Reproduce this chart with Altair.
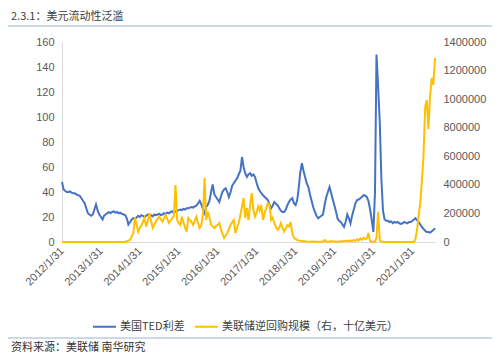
import altair as alt
import pandas as pd

title_text = "2.3.1：美元流动性泛滥"
source_text = "资料来源：美联储 南华研究"
series_names = ["美国TED利差", "美联储逆回购规模（右，十亿美元）"]
series_colors = ["#4472C4", "#FFC000"]
tick_years = list(range(2012, 2022))
left_ticks = [0, 20, 40, 60, 80, 100, 120, 140, 160]
right_ticks = [0, 200000, 400000, 600000, 800000, 1000000, 1200000, 1400000]

# TED spread (bp), semi-monthly points (15th and month end), 2012-01-31 .. 2021-08-31
ted_2012 = [48, 42, 41, 40, 40, 40.5, 39.5, 39, 39, 38, 37.5, 37, 35, 33, 31, 27, 23, 22, 21, 22, 26, 30, 25]
ted_2013 = [22, 20, 18, 21, 22, 23, 24, 23, 24, 24.5, 23.5, 24, 23, 23.5, 22.5, 22, 21.5, 19, 14, 16, 18, 19, 18.5, 19.5]
ted_2014 = [21, 20, 21.5, 21, 20, 21, 22, 21, 21.5, 20.5, 22, 21.5, 22, 22.5, 21.5, 22, 23, 22.5, 23.5, 23, 24, 24.5, 23.5, 24.5]
ted_2015 = [25, 25.5, 26, 25.5, 26.5, 26, 27, 27, 27.5, 28, 27.5, 28.5, 29, 31, 33, 30, 26, 23, 28, 30, 33, 40, 46, 38]
ted_2016 = [36, 34, 32, 36, 40, 42, 43, 40, 36, 40, 45, 47, 49, 51, 54, 57, 68, 60, 55, 52, 54, 55, 53, 54]
ted_2017 = [52, 47, 43, 41, 39, 37.5, 36, 35, 33.5, 30, 27, 29, 32, 30.5, 29.5, 27, 25, 24, 24, 26, 29.5, 32, 34, 35]
ted_2018 = [31, 29.5, 33.5, 42, 55, 63, 57, 52, 47, 44, 38, 33, 28, 24, 21, 19, 20, 21, 22, 30, 36, 40, 44, 39]
ted_2019 = [34, 29, 24, 19, 17, 16, 14, 12, 16, 22, 19, 15, 21, 26, 31, 33.5, 34, 35, 36, 37.5, 37, 36, 33, 26]
ted_2020 = [18, 8, 40, 150, 125, 95, 50, 25, 18, 17, 17, 16, 16.5, 15, 16, 15.5, 16, 15, 14.5, 15, 16, 15.5, 15, 16]
ted_2021 = [16, 17, 18, 19, 17.5, 16, 14, 12, 10.5, 9, 8, 8, 7.5, 8.5, 9.5, 11]

# Fed reverse repo (right axis), same dates
rrp_2012 = [0] * 23
rrp_2013 = [0, 0, 0, 0, 0, 0, 0, 0, 0, 0, 0, 0, 0, 0, 0, 0, 0,
            5000, 10000, 15000, 40000, 60000, 170000, 120000]
rrp_2014 = [72000, 100000, 119000, 140000, 168000, 107000, 150000, 203000, 150000, 98000, 120000, 142000,
            160000, 177000, 160000, 142000, 165000, 189000, 160000, 133000, 150000, 168000, 180000, 399000]
rrp_2015 = [154000, 130000, 119000, 177000, 140000, 100000, 72000, 168000, 154000, 140000, 119000, 150000,
            177000, 130000, 98000, 120000, 200000, 450000, 154000, 212000, 170000, 119000, 110000, 98000]
rrp_2016 = [110000, 120000, 133000, 90000, 60000, 28000, 45000, 63000, 90000, 119000, 140000, 154000,
            63000, 100000, 133000, 189000, 247000, 308000, 168000, 238000, 154000, 259000, 343000, 224000]
rrp_2017 = [177000, 210000, 247000, 220000, 259000, 154000, 200000, 238000, 273000, 259000, 154000, 170000,
            133000, 105000, 84000, 100000, 133000, 100000, 72000, 95000, 119000, 110000, 140000, 60000]
rrp_2018 = [30000, 20000, 14000, 10000, 8000, 7000, 4000, 5000, 3000, 2000, 1000, 4000,
            2000, 3000, 1000, 2000, 0, 4000, 1000, 14000, 2000, 3000, 1000, 8000]
rrp_2019 = [2000, 5000, 1000, 3000, 2000, 6000, 3000, 8000, 4000, 10000, 5000, 12000,
            6000, 15000, 8000, 20000, 10000, 25000, 15000, 30000, 20000, 25000, 63000, 5000]
rrp_2020 = [2000, 1000, 2000, 30000, 212000, 10000, 2000, 1000,
            0, 0, 0, 0, 0, 0, 0, 0, 0, 0, 0, 0, 0, 0, 0, 0]
rrp_2021 = [0, 0, 0, 20000, 84000, 190000, 273000, 434000, 600000, 945000, 994000, 790000,
            1015000, 1148000, 1099000, 1288000]

ted = ted_2012 + ted_2013 + ted_2014 + ted_2015 + ted_2016 + ted_2017 + ted_2018 + ted_2019 + ted_2020 + ted_2021
rrp = rrp_2012 + rrp_2013 + rrp_2014 + rrp_2015 + rrp_2016 + rrp_2017 + rrp_2018 + rrp_2019 + rrp_2020 + rrp_2021

dates = [pd.Timestamp("2012-01-31")]
for m in pd.date_range("2012-02-01", "2021-08-01", freq="MS"):
    dates.append(m + pd.Timedelta(days=14))
    dates.append(m + pd.offsets.MonthEnd(0))

df = pd.DataFrame({"date": [d.strftime("%Y-%m-%d") for d in dates], "ted": ted, "rrp": rrp})

CJK = "Noto Sans CJK SC"
LAT = "Liberation Sans"

x_enc = alt.X(
    "date:T",
    title=None,
    scale=alt.Scale(
        type="utc",
        nice=False,
        domain=[alt.DateTime(year=2012, month=1, date=31, utc=True),
                alt.DateTime(year=2021, month=8, date=31, utc=True)],
    ),
    axis=alt.Axis(
        values=[alt.DateTime(year=y, month=1, date=31, utc=True) for y in tick_years],
        labelExpr="utcFormat(datum.value, '%Y/%-m/%-d')",
        labelAngle=-45,
        labelAlign="right",
        labelBaseline="middle",
        labelPadding=7,
        labelOverlap=False,
        ticks=False,
        grid=False,
        domainColor="#D9D9D9",
    ),
)

legend = alt.Legend(
    orient="none", legendX=30, legendY=272, direction="horizontal", title=None,
    symbolType="stroke", symbolStrokeWidth=2, symbolSize=529,
    labelFont=CJK, labelFontSize=11, labelColor="#404040", labelLimit=400,
    labelOffset=3, columnPadding=6, padding=0,
)
color_scale = alt.Scale(domain=series_names, range=series_colors)

base = alt.Chart(df)

ted_line = base.transform_calculate(series="'" + series_names[0] + "'").mark_line(strokeWidth=2).encode(
    y=alt.Y("ted:Q", title=None, scale=alt.Scale(domain=[0, 160], nice=False),
            axis=alt.Axis(orient="left", values=left_ticks, grid=False, ticks=False,
                          domainColor="#D9D9D9", labelPadding=8)),
    color=alt.Color("series:N", scale=color_scale, legend=legend),
)

rrp_line = base.transform_calculate(series="'" + series_names[1] + "'").mark_line(strokeWidth=2).encode(
    y=alt.Y("rrp:Q", title=None, scale=alt.Scale(domain=[0, 1400000], nice=False),
            axis=alt.Axis(orient="right", values=right_ticks, format="d", grid=False, ticks=False,
                          domain=False, labelPadding=8)),
    color=alt.Color("series:N", scale=color_scale, legend=legend),
)

header = alt.Chart(pd.DataFrame({"t": [title_text]})).mark_text(
    align="left", baseline="middle", font=CJK, fontSize=11, color="#404040"
).encode(x=alt.value(-51), y=alt.value(-25), text="t:N")

header_rule = alt.Chart(pd.DataFrame({"a": [0]})).mark_rule(color="#9DB2CE", strokeWidth=1).encode(
    x=alt.value(-54), x2=alt.value(430), y=alt.value(-16)
)

source_rule = alt.Chart(pd.DataFrame({"a": [0]})).mark_rule(color="#9DB2CE", strokeWidth=1).encode(
    x=alt.value(-54), x2=alt.value(430), y=alt.value(296)
)

source = alt.Chart(pd.DataFrame({"t": [source_text]})).mark_text(
    align="left", baseline="middle", font=CJK, fontSize=11, color="#333333"
).encode(x=alt.value(-51), y=alt.value(306), text="t:N")

chart = alt.layer(ted_line, rrp_line, header, header_rule, source_rule, source).encode(
    x=x_enc
).resolve_scale(
    y="independent"
).properties(
    width=373,
    height=200,
    autosize=alt.AutoSizeParams(type="none"),
    padding={"left": 54, "top": 34, "right": 57, "bottom": 114},
).configure_view(stroke=None).configure_axis(
    labelFont=LAT, labelFontSize=11, labelColor="#595959"
)

chart.save("out.html", embed_options={"renderer": "svg", "actions": False})
